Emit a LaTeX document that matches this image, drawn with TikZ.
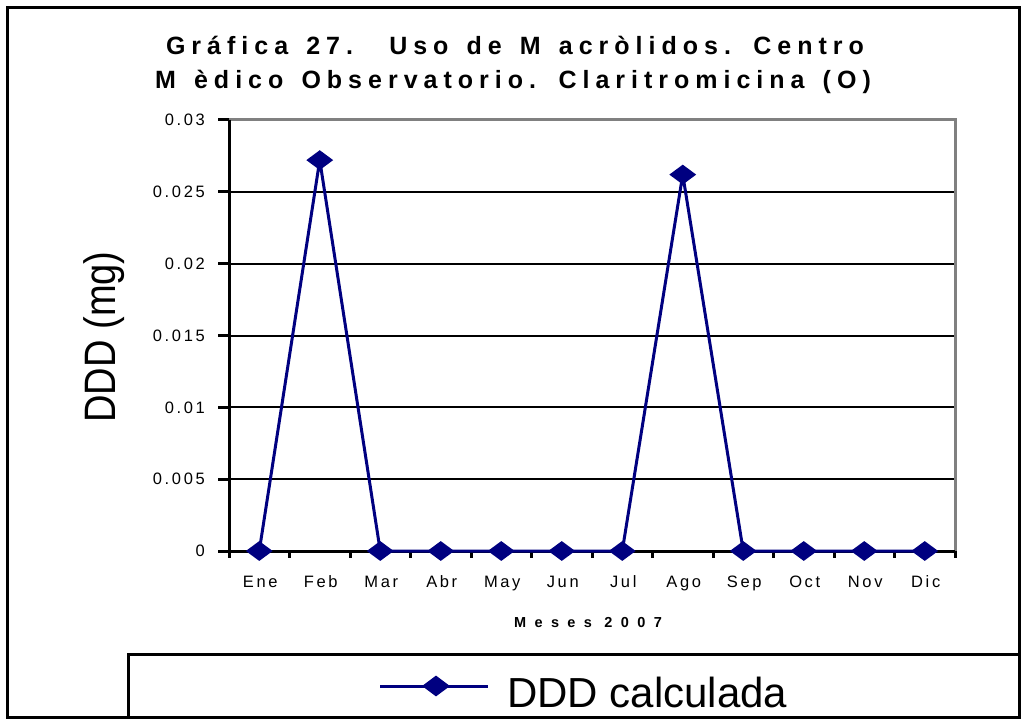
\documentclass[tikz,border=0pt]{standalone}
\usepackage{fontspec}
\usepackage{graphicx}
\setmainfont{Liberation Sans}
\newfontfamily\titlefont[LetterSpace=24,WordSpace=1.4]{Liberation Sans}
\newfontfamily\tickfont[LetterSpace=16]{Liberation Sans}
\newfontfamily\axfont[LetterSpace=58]{Liberation Sans}
\usetikzlibrary{shapes.geometric}
\definecolor{navyblue}{RGB}{0,0,128}
\definecolor{frameg}{RGB}{128,128,128}
\tikzset{
  frameline/.style={draw=black, line width=3pt},
  gridl/.style={draw=black, line width=2pt},
  axisl/.style={draw=black, line width=3pt},
  plotborder/.style={draw=frameg, line width=3pt},
  tickl/.style={draw=black, line width=3pt},
  dataline/.style={draw=navyblue, line width=3pt, line join=round},
  dia/.style={shape=diamond, fill=navyblue, draw=none, inner sep=0pt, minimum width=27pt, minimum height=20pt},
  ylab/.style={anchor=east, inner sep=0pt, font=\tickfont\fontsize{16.5}{19}\selectfont},
  xlab/.style={anchor=base, inner sep=0pt, font=\tickfont\fontsize{16.5}{19}\selectfont},
  titlelab/.style={anchor=base, inner sep=0pt, font=\titlefont\bfseries\fontsize{25}{30}\selectfont},
}
\begin{document}
\begin{tikzpicture}[x=1pt,y=-1pt]
\useasboundingbox (0,0) rectangle (1022,719);
\fill[white] (0,0) rectangle (1022,719);
% outer frame
\draw[frameline] (7,8) rectangle (1019,717);
% title
\node[titlelab] (title1) at (515,55) {Gráfica 27.\ \ Uso de M acròlidos. Centro};
\node[titlelab] (title2) at (513,89) {M èdico Observat\kern6pt orio. Claritr\kern6pt omicina (O)};
% grid lines
\foreach \k in {1,...,5} \draw[gridl] (229,{551-\k*71.833}) -- (955,{551-\k*71.833});
% plot border (top and right)
\draw[plotborder] (229,120) -- (955,120) -- (955,551);
% y ticks and labels
\foreach \k/\t in {0/0,1/0.005,2/0.01,3/0.015,4/0.02,5/0.025,6/0.03} {
  \draw[tickl] (218,{551-\k*71.833}) -- (229,{551-\k*71.833});
  \node[ylab] (yl\k) at (205,{551-\k*71.833}) {\t};
}
% x ticks
\foreach \k in {0,...,12} \draw[tickl] ({229+\k*60.5},551) -- ({229+\k*60.5},558);
% axes
\draw[axisl] (229,120) -- (229,558);
\draw[axisl] (218,551) -- (955,551);
% x labels
\foreach \m [count=\i] in {Ene,Feb,Mar,Abr,May,Jun,Jul,Ago,Sep,Oct,Nov,Dic}
  \node[xlab] (xl\i) at ({230+(\i-0.5)*60.5},587) {\m};
% axis titles
\node[anchor=base, inner sep=0pt, font=\axfont\bfseries\fontsize{14.5}{17}\selectfont] (xtitle) at (588,627) {Meses 2007};
\node[rotate=90, anchor=base, inner sep=0pt, font=\fontsize{44}{50}\selectfont] (ytitle) at (115,337) {\scalebox{0.865}[1]{DDD (mg)}};
% data
\foreach \v [count=\i] in {0,0.0272,0,0,0,0,0,0.0262,0,0,0,0}
  \coordinate (p\i) at ({229+(\i-0.5)*60.5},{551-\v*14366.67});
\draw[dataline] (p1) \foreach \i in {2,...,12} {-- (p\i)};
\foreach \i in {1,...,12} \node[dia] (d\i) at (p\i) {};
% legend
\draw[frameline] (128,654) rectangle (1019,717);
\coordinate (lgA) at (380,686);
\coordinate (lgB) at (488,686);
\draw[dataline] (lgA) -- (lgB);
\node[dia, minimum width=28pt, minimum height=21pt] (lgd) at (436,686) {};
\node[anchor=base west, inner sep=0pt, font=\fontsize{42}{48}\selectfont] (lgtext) at (507,707) {DDD calculada};
\end{tikzpicture}
\end{document}
